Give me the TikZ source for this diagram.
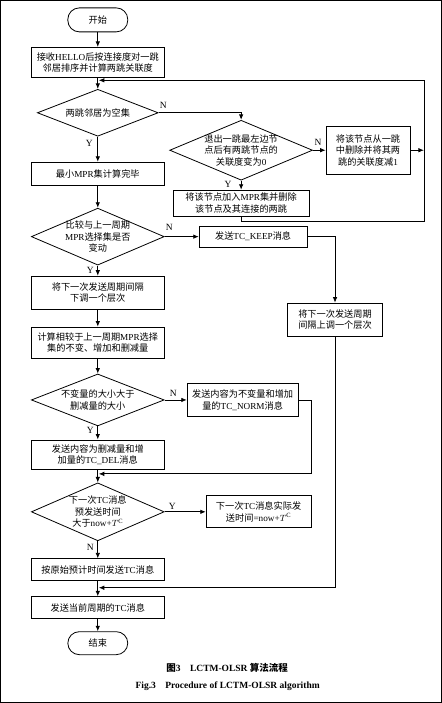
\documentclass[tikz,border=0pt]{standalone}
\usepackage{fontspec}
\usepackage{tikz}
\usetikzlibrary{shapes.geometric,arrows.meta}
\setmainfont{Liberation Serif}
\newfontfamily\cjk{Noto Sans CJK SC}
% CJK runs switch to the CJK family automatically
\chardef\cjkclass=7
\newcount\cjkcode
\cjkcode="3000
\loop\XeTeXcharclass\cjkcode=\cjkclass\advance\cjkcode by 1\ifnum\cjkcode<"3040\repeat
\cjkcode="4E00
\loop\XeTeXcharclass\cjkcode=\cjkclass\advance\cjkcode by 1\ifnum\cjkcode<"A000\repeat
\cjkcode="FF00
\loop\XeTeXcharclass\cjkcode=\cjkclass\advance\cjkcode by 1\ifnum\cjkcode<"FFF0\repeat
\XeTeXinterchartoks 0 \cjkclass={\cjk}
\XeTeXinterchartoks 4095 \cjkclass={\cjk}
\XeTeXinterchartoks \cjkclass 0={\rmfamily}
\XeTeXinterchartoks 4095 0={\rmfamily}
\XeTeXinterchartokenstate=1
\begin{document}
\begin{tikzpicture}[x=1pt, y=-1pt, >={Latex[length=5.5pt,width=4.5pt]},
	every node/.style={font=\fontsize{9.2}{11.5}\selectfont},
	every path/.style={draw=black, thick},
	box/.style={rectangle, draw=black, thick, align=center, inner sep=1pt, minimum width=133pt},
	term/.style={rectangle, draw=black, thick, rounded corners=11.5pt, minimum width=60pt, minimum height=24pt},
	dec/.style={diamond, draw=black, thick, inner sep=0pt, minimum width=133pt},
	txt/.style={align=center, inner sep=0pt},
	yn/.style={inner sep=0pt, font=\fontsize{9.5}{11}\selectfont}]
			\useasboundingbox (0,0) rectangle (441,703);
			
			\node[term] (start) at (97.5,19.5){开始};
			\node[box, minimum height=30pt] (recv) at (97.5,62){接收HELLO后按连接度对一跳\\邻居排序并计算两跳关联度};
			\node[dec, minimum width=121pt, minimum height=47pt] (d1) at (97.5,112.5){};
			\node[txt] (d1t) at (d1){两跳邻居为空集};
			\node[dec, minimum width=143pt, minimum height=60pt] (d2) at (241,150){};
			\node[txt] (d2t) at (d2){退出一跳最左边节\\点后有两跳节点的\\关联度变为0};
			\node[box, minimum width=84pt, minimum height=48pt] (del1) at (368,150){将该节点从一跳\\中删除并将其两\\跳的关联度减1};
			\node[box, minimum height=23pt] (mpr) at (97.5,173.5){最小MPR集计算完毕};
			\node[box, minimum width=136pt, minimum height=26pt] (add) at (241,203){将该节点加入MPR集并删除\\该节点及其连接的两跳};
			\node[dec, minimum height=57pt] (d3) at (97.5,236.5){};
			\node[txt] (d3t) at (d3){比较与上一周期\\MPR选择集是否\\变动};
			\node[box, minimum width=108pt, minimum height=21pt] (keep) at (253,236.5){发送TC\_KEEP消息};
			\node[box, minimum height=33pt] (down) at (97.5,292.5){将下一次发送周期间隔\\下调一个层次};
			\node[box, minimum width=95pt, minimum height=33pt] (up) at (335,319.5){将下一次发送周期\\间隔上调一个层次};
			\node[box, minimum height=31pt] (calc) at (97.5,342.5){计算相较于上一周期MPR选择\\集的不变、增加和删减量};
			\node[dec, minimum height=52pt] (d4) at (97.5,400){};
			\node[txt] (d4t) at (d4){不变量的大小大于\\删减量的大小};
			\node[box, minimum width=111pt, minimum height=33pt] (norm) at (242.5,400){发送内容为不变量和增加\\量的TC\_NORM消息};
			\node[box, minimum height=30pt] (deltc) at (97.5,455){发送内容为删减量和增\\加量的TC\_DEL消息};
			\node[dec, minimum height=58pt] (d5) at (97.5,512){};
			\node[txt] (d5t) at (d5){下一次TC消息\\预发送时间\\大于now+$T^{\mathrm{C}}$};
			\node[box, minimum width=105pt, minimum height=32pt] (next) at (258.5,512){下一次TC消息实际发\\送时间=now+$T^{\mathrm{C}}$};
			\node[box, minimum height=22pt] (orig) at (97.5,570){按原始预计时间发送TC消息};
			\node[box, minimum height=22pt] (cur) at (97.5,608){发送当前周期的TC消息};
			\node[term, minimum height=23pt] (end) at (97.5,643.5){结束};
			
			\coordinate (jA) at (98.5,80);
			\coordinate (jAr) at (424,80);
			\coordinate (jAb) at (424,221);
			\coordinate (jD) at (98.5,474);
			\coordinate (jB) at (98.5,588);
			
			\node[yn] (n1) at (163,105){N};
			\node[yn] (y1) at (89,143){Y};
			\node[yn] (n2) at (318,142){N};
			\node[yn] (y2) at (228,184){Y};
			\node[yn] (n3) at (169,227){N};
			\node[yn] (y3) at (90,270){Y};
			\node[yn] (n4) at (173,393){N};
			\node[yn] (y4) at (90,430){Y};
			\node[yn] (y5) at (172,507){Y};
			\node[yn] (n5) at (90,548){N};
			
			\draw[->] (start) -- (recv);
			\draw[->] (recv) -- (d1);
			\draw[->] (d1.east) -| (d2.north);
			\draw[->] (d2.east) -- (del1.west);
			\draw[->] (del1.east) -- (del1.east -| jAr);
			\draw[->] (d2.south) -- (add.north);
			\draw[->] (add.south) |- (jAb) -- (jAr) -- (jA);
			\draw[->] (d1.south) -- (mpr.north);
			\draw[->] (mpr) -- (d3);
			\draw[->] (d3.east) -- (keep.west);
			\draw[->] (keep.east) -| (up.north);
			\draw[->] (d3.south) -- (down.north);
			\draw[->] (down) -- (calc);
			\draw[->] (calc) -- (d4);
			\draw[->] (d4.east) -- (norm.west);
			\draw[->] (norm.east) -- ++(13,0) |- (jD);
			\draw[->] (d4.south) -- (deltc.north);
			\draw[->] (deltc) -- (d5);
			\draw[->] (d5.east) -- (next.west);
			\draw[->] (d5.south) -- (orig.north);
			\draw[->] (up.south) |- (jB);
			\draw[->] (orig) -- (cur);
			\draw[->] (cur) -- (end);
			
			\node[font=\bfseries\fontsize{9.5}{11}\selectfont] (cap1) at (227,668){图3\quad LCTM-OLSR 算法流程};
			\node[font=\bfseries\fontsize{9.5}{11}\selectfont] (cap2) at (227.5,687){Fig.3\quad Procedure of LCTM-OLSR algorithm};
\end{tikzpicture}
\end{document}
